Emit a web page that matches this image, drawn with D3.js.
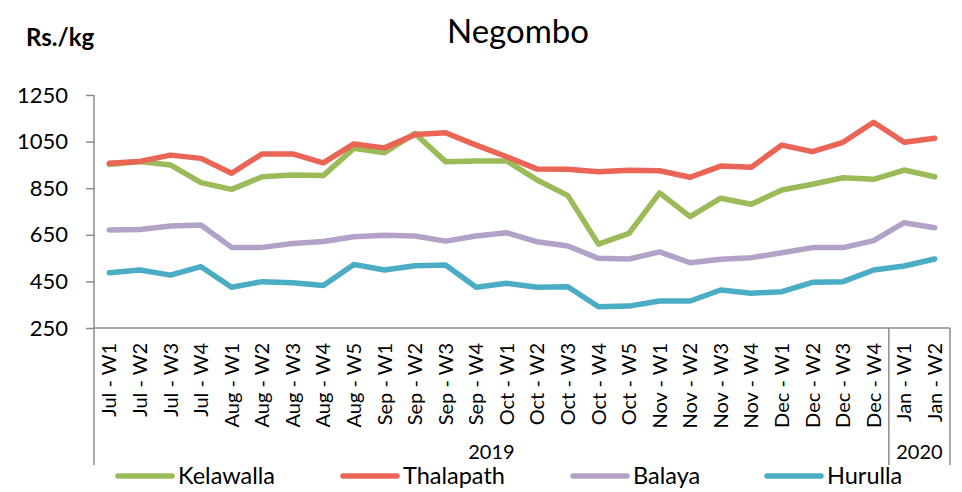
<!DOCTYPE html>
<html>
<head>
<meta charset="utf-8">
<script src="https://cdn.jsdelivr.net/npm/d3@7/dist/d3.min.js"></script>
<style>
  html, body { margin: 0; padding: 0; background: #fff; }
  svg { display: block; font-family: Lato, "Open Sans", sans-serif; }
</style>
</head>
<body>
<svg id="chart" width="962" height="492"></svg>
<script>
const categories = [
  "Jul - W1","Jul - W2","Jul - W3","Jul - W4",
  "Aug - W1","Aug - W2","Aug - W3","Aug - W4","Aug - W5",
  "Sep - W1","Sep - W2","Sep - W3","Sep - W4",
  "Oct - W1","Oct - W2","Oct - W3","Oct - W4","Oct - W5",
  "Nov - W1","Nov - W2","Nov - W3","Nov - W4",
  "Dec - W1","Dec - W2","Dec - W3","Dec - W4",
  "Jan - W1","Jan - W2"
];
const years = [
  { label: "2019", from: 0, to: 25 },
  { label: "2020", from: 26, to: 27 }
];
const seriesNames = ["Kelawalla", "Thalapath", "Balaya", "Hurulla"];
const kelawalla = [952, 965, 950, 874, 845, 899, 907, 904, 1021, 1002, 1085, 964, 967, 967, 885, 818, 610, 656, 830, 728, 807, 781, 842, 867, 895, 888, 928, 899];
const thalapath = [957, 965, 992, 978, 914, 997, 997, 959, 1040, 1023, 1080, 1088, 1035, 985, 932, 931, 921, 927, 925, 897, 945, 940, 1035, 1007, 1047, 1133, 1047, 1064];
const balaya    = [671, 673, 688, 692, 596, 596, 613, 621, 642, 648, 645, 623, 645, 659, 620, 602, 549, 546, 577, 530, 545, 552, 573, 595, 595, 625, 702, 680];
const hurulla   = [487, 499, 477, 513, 425, 449, 444, 432, 523, 499, 517, 520, 425, 442, 425, 427, 341, 344, 366, 366, 413, 399, 406, 446, 449, 499, 516, 546];
const yTicks = [250, 450, 650, 850, 1050, 1250];
const colors = ["#9BBB59", "#EA6555", "#B3A2C7", "#4BACC6"];

const seriesValues = [kelawalla, thalapath, balaya, hurulla];

(function () {
const svg = d3.select("#chart");
const plotLeft = 94, plotRight = 950, plotTop = 95, plotBottom = 328;
const axisColor = "#8c8c8c";

const x = d3.scaleBand().domain(d3.range(categories.length)).range([plotLeft, plotRight]);
const y = d3.scaleLinear().domain([250, 1250]).range([plotBottom, plotTop]);

// Title
svg.append("text").attr("x", 518).attr("y", 43).attr("text-anchor", "middle")
  .style("font-size", "33px").attr("fill", "#000").text("Negombo");

// Unit label
svg.append("text").attr("x", 26).attr("y", 46)
  .style("font-size", "24px").style("font-weight", "bold").attr("fill", "#000").text("Rs./kg");

// Y axis
const yAxis = svg.append("g").attr("transform", `translate(${plotLeft},0)`)
  .call(d3.axisLeft(y).tickValues(yTicks).tickSize(8).tickPadding(18).tickFormat(d3.format("d")));
yAxis.select(".domain").remove();
yAxis.selectAll(".tick line").attr("stroke", axisColor).attr("stroke-width", 1.5);
yAxis.selectAll(".tick text").style("font-size", "22px").attr("fill", "#000")
  .style("font-family", "Lato, sans-serif");
svg.append("line").attr("x1", plotLeft).attr("x2", plotLeft).attr("y1", plotTop).attr("y2", 465)
  .attr("stroke", axisColor).attr("stroke-width", 1.5);

// X axis baseline
svg.append("line").attr("x1", plotLeft).attr("x2", plotRight).attr("y1", plotBottom).attr("y2", plotBottom)
  .attr("stroke", axisColor).attr("stroke-width", 1.5);

// Year separators
years.forEach(yr => {
  const xe = x(yr.to) + x.bandwidth();
  svg.append("line").attr("x1", xe).attr("x2", xe).attr("y1", plotBottom).attr("y2", 465)
    .attr("stroke", axisColor).attr("stroke-width", 1.5);
  const xc = (x(yr.from) + xe) / 2;
  svg.append("text").attr("x", xc).attr("y", 459).attr("text-anchor", "middle")
    .style("font-size", "20px").attr("fill", "#000").text(yr.label);
});

// Category labels
svg.append("g").selectAll("text").data(categories).join("text")
  .attr("transform", (d, i) => `translate(${x(i) + x.bandwidth() / 2},343) rotate(-90)`)
  .attr("text-anchor", "end").attr("dy", "0.36em")
  .style("font-size", "20px").attr("fill", "#000").text(d => d);

// Lines
const line = d3.line().x((d, i) => x(i) + x.bandwidth() / 2).y(d => y(d));
seriesValues.forEach((vals, k) => {
  svg.append("path").datum(vals).attr("d", line)
    .attr("fill", "none").attr("stroke", colors[k]).attr("stroke-width", 5.5)
    .attr("stroke-linejoin", "round").attr("stroke-linecap", "round");
});

// Legend
const legendX = [118, 343, 573, 767];
seriesNames.forEach((name, k) => {
  const g = svg.append("g").attr("transform", `translate(${legendX[k]},476)`);
  g.append("line").attr("x1", 0).attr("x2", 54).attr("y1", 0).attr("y2", 0)
    .attr("stroke", colors[k]).attr("stroke-width", 5.5).attr("stroke-linecap", "round");
  g.append("text").attr("x", 60).attr("y", 0).attr("dy", "0.36em")
    .style("font-size", "23.5px").attr("fill", "#000").text(name);
});
})();
</script>
</body>
</html>
